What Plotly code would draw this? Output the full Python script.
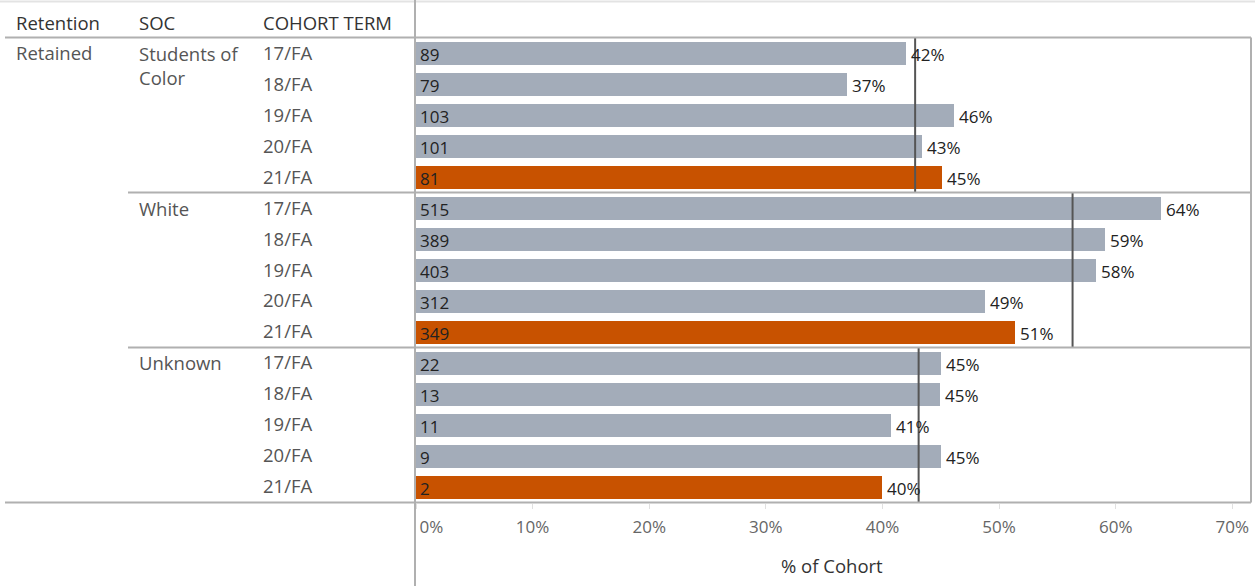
import plotly.graph_objects as go

W, H = 1255, 586

retention = "Retained"
soc_groups = ["Students of<br>Color", "White", "Unknown"]
terms = ["17/FA", "18/FA", "19/FA", "20/FA", "21/FA"]
counts_soc = [89, 79, 103, 101, 81]
pct_soc = [0.420, 0.370, 0.461, 0.434, 0.451]
counts_white = [515, 389, 403, 312, 349]
pct_white = [0.639, 0.591, 0.583, 0.488, 0.514]
counts_unknown = [22, 13, 11, 9, 2]
pct_unknown = [0.450, 0.449, 0.407, 0.450, 0.400]
group_avg = [0.428, 0.563, 0.431]
x_ticks = [0, 0.1, 0.2, 0.3, 0.4, 0.5, 0.6, 0.7]
x_tick_labels = ["\u00a0" * 7 + "0%", "10%", "20%", "30%", "40%", "50%", "60%", "70%"]

GRAY = "#a3acb9"
ORANGE = "#c85200"
FONT = "Open Sans"
LBL = 18.5

counts = counts_soc + counts_white + counts_unknown
pcts = pct_soc + pct_white + pct_unknown
n = len(pcts)
rows = list(range(n))
colors = [ORANGE if (i % 5 == 4) else GRAY for i in rows]

def px(x):
    return x / W

def py(y):
    return 1 - y / H

fig = go.Figure()
fig.add_trace(go.Bar(
    x=pcts, y=rows, orientation="h",
    marker=dict(color=colors, line=dict(width=0)),
    width=0.74, hoverinfo="skip",
))

ann = []
shapes = []
for i in rows:
    ann.append(dict(x=0, y=i, xref="x", yref="y", text=str(counts[i]),
                    showarrow=False, xanchor="left", xshift=2, yshift=-1,
                    font=dict(family=FONT, size=17, color="#222")))
    ann.append(dict(x=pcts[i], y=i, xref="x", yref="y", text=f"{round(pcts[i]*100)}%",
                    showarrow=False, xanchor="left", xshift=3, yshift=-1,
                    font=dict(family=FONT, size=17, color="#222")))

for g, avg in enumerate(group_avg):
    shapes.append(dict(type="line", xref="x", yref="y", x0=avg, x1=avg,
                       y0=g * 5 - 0.5, y1=g * 5 + 4.5,
                       line=dict(color="#555555", width=2)))

hdr_y = 22
for txt, x in [("Retention", 14), ("SOC", 137), ("COHORT TERM", 261)]:
    ann.append(dict(x=px(x), y=py(hdr_y), xref="paper", yref="paper", text=txt,
                    showarrow=False, xanchor="left", yanchor="middle",
                    font=dict(family=FONT, size=LBL, color="#333333")))

ROW0 = 38
PITCH = (502 - 38) / 15
ann.append(dict(x=px(14), y=py(ROW0 + PITCH / 2 - 1), xref="paper", yref="paper", text=retention,
                showarrow=False, xanchor="left", yanchor="middle",
                font=dict(family=FONT, size=LBL, color="#555555")))
for g, name in enumerate(soc_groups):
    ann.append(dict(x=px(137), y=py(ROW0 + g * 5 * PITCH + 1), xref="paper", yref="paper",
                    text=name, showarrow=False, xanchor="left", yanchor="top", align="left",
                    font=dict(family=FONT, size=LBL, color="#555555")))
    for k, t in enumerate(terms):
        ann.append(dict(x=px(261), y=py(ROW0 + (g * 5 + k + 0.5) * PITCH - 1), xref="paper", yref="paper",
                        text=t, showarrow=False, xanchor="left", yanchor="middle",
                        font=dict(family=FONT, size=LBL, color="#555555")))

ann.append(dict(x=px(832), y=py(565), xref="paper", yref="paper", text="% of Cohort",
                showarrow=False, xanchor="center", yanchor="middle",
                font=dict(family=FONT, size=LBL, color="#333333")))

LC = "#b0b0b0"
shapes += [
    dict(type="line", xref="paper", yref="paper", x0=0, x1=1, y0=py(1.5), y1=py(1.5),
         line=dict(color="#e3e3e3", width=2)),
    dict(type="line", xref="paper", yref="paper", x0=px(5), x1=px(1251), y0=py(37.5), y1=py(37.5),
         line=dict(color=LC, width=2)),
    dict(type="line", xref="paper", yref="paper", x0=px(128), x1=px(1251), y0=py(192.5), y1=py(192.5),
         line=dict(color=LC, width=2)),
    dict(type="line", xref="paper", yref="paper", x0=px(128), x1=px(1251), y0=py(347.5), y1=py(347.5),
         line=dict(color=LC, width=2)),
    dict(type="line", xref="paper", yref="paper", x0=px(5), x1=px(1251), y0=py(502.5), y1=py(502.5),
         line=dict(color=LC, width=2)),
    dict(type="line", xref="paper", yref="paper", x0=px(415), x1=px(415), y0=0, y1=1,
         line=dict(color=LC, width=2)),
    dict(type="line", xref="paper", yref="paper", x0=px(1251), x1=px(1251), y0=py(37.5), y1=py(502.5),
         line=dict(color=LC, width=2)),
]

fig.update_layout(
    width=W, height=H,
    margin=dict(l=0, r=0, t=0, b=0, autoexpand=False),
    paper_bgcolor="white", plot_bgcolor="white",
    showlegend=False,
    annotations=ann, shapes=shapes,
    bargap=0,
    xaxis=dict(domain=[px(416), px(1251)], range=[0, 0.716],
               tickvals=x_ticks, ticktext=x_tick_labels,
               showgrid=False, zeroline=False, showline=False,
               ticks="outside", ticklen=5, tickcolor="#e0e0e0",
               ticklabelstandoff=4,
               tickfont=dict(family=FONT, size=17, color="#666666"),
               anchor="y"),
    yaxis=dict(domain=[py(502.5), py(37.5)], range=[n - 0.5, -0.5],
               showticklabels=False, showgrid=False, zeroline=False, showline=False,
               ticks=""),
)

fig.write_html("out.html")
